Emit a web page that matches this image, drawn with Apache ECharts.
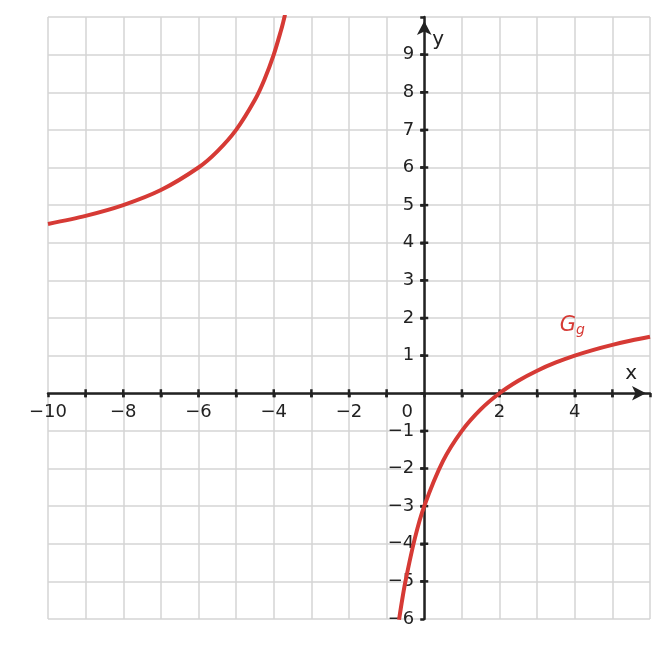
<!DOCTYPE html>
<html><head><meta charset="utf-8">
<script src="https://cdn.jsdelivr.net/npm/echarts@6/dist/echarts.min.js"></script>
<style>html,body{margin:0;padding:0;background:#fff}#c{width:668px;height:648px}</style>
</head><body><div id="c"></div>
<script>
const leftX = [-10,-9,-8,-7,-6,-5.5,-5,-4.5,-4.25,-4,-3.8,-3.75,-3.7];
const leftY = [4.5,4.714,5,5.4,6,6.429,7,7.8,8.333,9,9.667,9.857,10.059];
const rightX = [-0.67,-0.6,-0.5,-0.25,0,0.5,1,1.5,2,2.5,3,3.5,4,4.5,5,5.5,6];
const rightY = [-6.02,-5.571,-5,-3.857,-3,-1.8,-1,-0.429,0,0.333,0.6,0.818,1,1.154,1.286,1.4,1.5];
const xTickLabels = [-10,-8,-6,-4,-2,2,4];
const yTickLabels = [-6,-5,-4,-3,-2,-1,1,2,3,4,5,6,7,8,9];
const fmt = v => (v<0 ? '\u2212'+Math.abs(v) : String(v));
const red = '#d63a35', ink = '#222';
const chart = echarts.init(document.getElementById('c'));
const axBase = {
  type:'value', interval:1,
  splitLine:{show:true,lineStyle:{color:'#d4d4d4',width:1.5}},
  axisLine:{onZero:true,symbol:['none','arrow'],symbolSize:[11,14],symbolOffset:[0,-4],lineStyle:{color:ink,width:2.5}},
  axisTick:{show:true,length:4,inside:false,lineStyle:{color:ink,width:2.5}},
  axisLabel:{show:false}
};
chart.setOption({
  animation:false,
  grid:{left:48,right:18,top:17,bottom:29},
  xAxis:Object.assign({},axBase,{min:-10,max:6}),
  yAxis:Object.assign({},axBase,{min:-6,max:10}),
  series:[
    {type:'line',smooth:0.3,showSymbol:false,data:leftX.map((x,i)=>[x,leftY[i]]),lineStyle:{color:red,width:4},clip:true},
    {type:'line',smooth:0.3,showSymbol:false,data:rightX.map((x,i)=>[x,rightY[i]]),lineStyle:{color:red,width:4},clip:true}
  ]
});
const P = (x,y)=>chart.convertToPixel({gridIndex:0},[x,y]);
const font = {fontSize:18,fill:ink,fontFamily:'DejaVu Sans'};
const gr = [];
xTickLabels.forEach(v=>{const p=P(v,0);gr.push({type:'text',x:p[0],y:p[1]+19,style:Object.assign({text:fmt(v),align:'center',verticalAlign:'middle'},font)});});
yTickLabels.forEach(v=>{const p=P(0,v);gr.push({type:'text',x:p[0]-10,y:p[1],style:Object.assign({text:fmt(v),align:'right',verticalAlign:'middle'},font)});});
for(let v=-9;v<=5;v++){if(v===0)continue;const p=P(v,0);gr.push({type:'line',shape:{x1:p[0],y1:p[1]-4,x2:p[0],y2:p[1]+4},style:{stroke:ink,lineWidth:2.5}});}
for(let v=-5;v<=9;v++){if(v===0)continue;const p=P(0,v);gr.push({type:'line',shape:{x1:p[0]-4,y1:p[1],x2:p[0]+4,y2:p[1]},style:{stroke:ink,lineWidth:2.5}});}
const o=P(0,0);
gr.push({type:'text',x:o[0]-17,y:o[1]+19,style:Object.assign({text:'0',align:'center',verticalAlign:'middle'},font)});
const xn=P(5.5,0);gr.push({type:'text',x:xn[0],y:xn[1]-19,style:Object.assign({text:'x',align:'center',verticalAlign:'middle'},font,{fontSize:20})});
const yn=P(0,9.4);gr.push({type:'text',x:yn[0]+14,y:yn[1],style:Object.assign({text:'y',align:'center',verticalAlign:'middle'},font,{fontSize:20})});
const g=P(3.6,1.8);
gr.push({type:'text',x:g[0],y:g[1]-12,style:{text:'{g|G}{s|g}',rich:{g:{fontSize:21,fontStyle:'italic',fill:red,fontFamily:'DejaVu Sans'},s:{fontSize:14,fontStyle:'italic',fill:red,fontFamily:'DejaVu Sans',padding:[10,0,0,0]}}}});
chart.setOption({graphic:gr});
</script></body></html>
